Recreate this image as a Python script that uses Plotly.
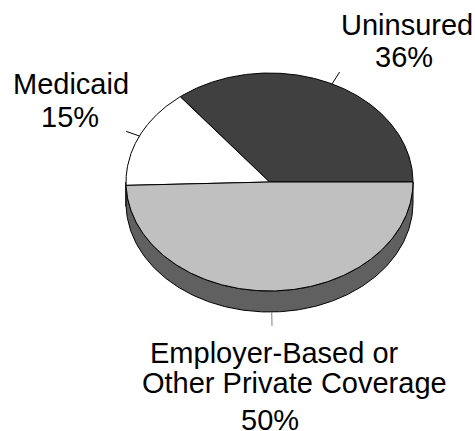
import numpy as np
import plotly.graph_objects as go

# Health coverage shares (percent)
labels = ["Uninsured", "Medicaid", "Employer-Based or Other Private Coverage"]
values = [36, 15, 50]
top_colors = ["#404040", "#FFFFFF", "#C0C0C0"]
side_colors = ["#202020", "#9A9A9A", "#606060"]
leader_colors = ["#000000", "#000000", "#7F7F7F"]

W, H = 475, 431
CX, CY = 269.5, 182.0     # centre of the top face (px)
RX, RY = 143.5, 109.0     # ellipse radii (px)
DEPTH = 21.0              # thickness of the disc (px)
LEADER = 14.0             # leader line length (px)

total = float(sum(values))
angles = np.concatenate([[0.0], np.cumsum(values) / total * 360.0])


def pt(t_deg, dy=0.0):
    t = np.radians(t_deg)
    return CX + RX * np.cos(t), CY - RY * np.sin(t) + dy


fig = go.Figure()

# Side walls: only the front half (180..360 deg) of the disc is visible
for i in range(len(values)):
    a0, a1 = max(angles[i], 180.0), min(angles[i + 1], 360.0)
    if a1 <= a0:
        continue
    ts = np.linspace(a0, a1, 200)
    xt, yt = pt(ts)
    xb, yb = pt(ts[::-1], DEPTH)
    fig.add_trace(go.Scatter(
        x=np.concatenate([xt, xb, xt[:1]]),
        y=np.concatenate([yt, yb, yt[:1]]),
        mode="lines", fill="toself", fillcolor=side_colors[i],
        line=dict(color="black", width=1), hoverinfo="skip"))

# Top faces of the slices
for i in range(len(values)):
    ts = np.linspace(angles[i], angles[i + 1], 300)
    xa, ya = pt(ts)
    fig.add_trace(go.Scatter(
        x=np.concatenate([[CX], xa, [CX]]),
        y=np.concatenate([[CY], ya, [CY]]),
        mode="lines", fill="toself", fillcolor=top_colors[i],
        line=dict(color="black", width=1), hoverinfo="skip"))

# Leader lines at each slice's mid-angle, pointing outward
for i in range(len(values)):
    mid = 0.5 * (angles[i] + angles[i + 1])
    t = np.radians(mid)
    dx, dy = RX * np.cos(t), -RY * np.sin(t)
    n = np.hypot(dx, dy)
    dy_off = DEPTH if 180.0 < mid < 360.0 else 0.0
    x0, y0 = pt(mid, dy_off)
    fig.add_trace(go.Scatter(
        x=[x0, x0 + dx / n * LEADER], y=[y0, y0 + dy / n * LEADER],
        mode="lines", line=dict(color=leader_colors[i], width=1),
        hoverinfo="skip"))

# Labels
font = dict(family="Liberation Sans, Arial, sans-serif", size=29, color="black")
label_lines = [
    ("Uninsured", 407, 25), (f"{values[0]}%", 403.5, 57),
    ("Medicaid", 70.5, 83.5), (f"{values[1]}%", 70, 116.5),
    ("Employer-Based or", 274, 352.5), ("Other Private Coverage", 294, 383),
    (f"{values[2]}%", 270, 419.5),
]
for text, x, y in label_lines:
    fig.add_annotation(x=x, y=y, text=text, showarrow=False, font=font,
                       xanchor="center", yanchor="middle")

fig.update_layout(
    width=W, height=H, margin=dict(l=0, r=0, t=0, b=0),
    paper_bgcolor="white", plot_bgcolor="white", showlegend=False,
    xaxis=dict(range=[0, W], visible=False, fixedrange=True),
    yaxis=dict(range=[H, 0], visible=False, fixedrange=True),
)

fig.write_html("out.html")
